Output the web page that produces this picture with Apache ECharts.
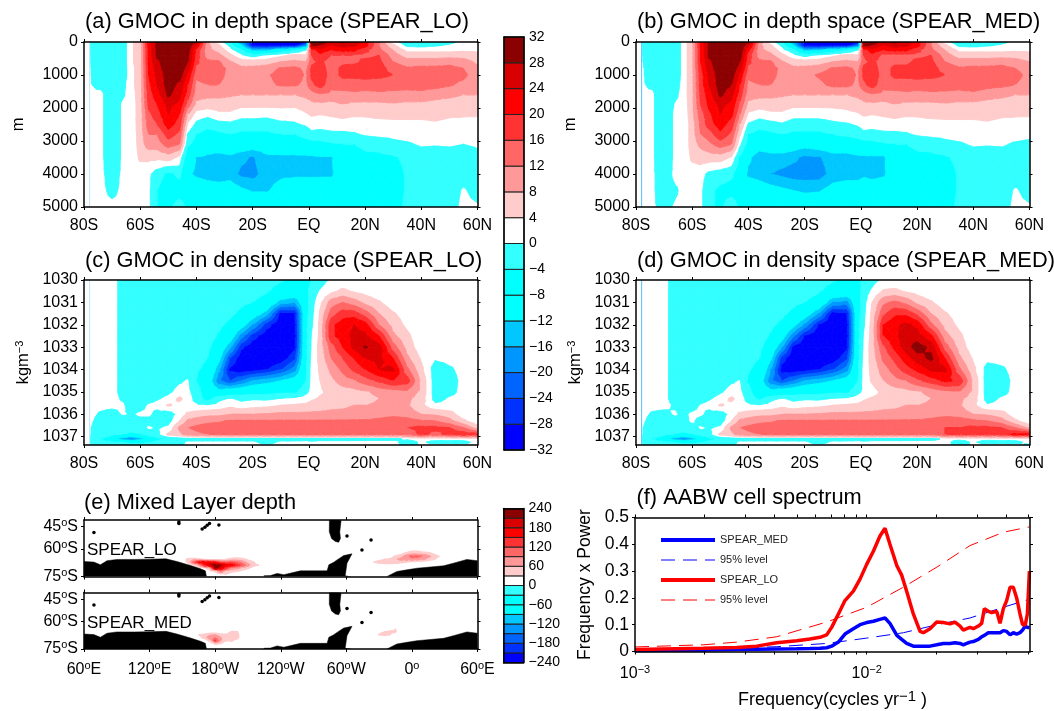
<!DOCTYPE html>
<html>
<head>
<meta charset="utf-8">
<title>GMOC SPEAR</title>
<script src="https://cdn.jsdelivr.net/npm/echarts@6/dist/echarts.min.js"></script>
<style>
  html, body { margin: 0; padding: 0; background: #fff; }
  #main { width: 1054px; height: 711px; }
</style>
</head>
<body>
<div id="main"></div>
<script>
// shared colour levels
const levels = [-32,-28,-24,-20,-16,-12,-8,-4,0,4,8,12,16,20,24,28,32];
const mldLevels = [-240,-210,-180,-150,-120,-90,-60,-30,0,30,60,90,120,150,180,210,240];
const bandColors = ['#0000ff','#0032ff','#0064ff','#0096ff','#00c8ff','#00ffff','#00ffff','#33ffff','#ffffff','#ffcccc','#ff9999','#ff6666','#ff3333','#ff0000','#d80000','#8b0000'];

// section axes
const latNodes = [-80,-78,-74,-70,-66,-63,-60,-57,-54,-50,-46,-43,-40,-36,-32,-28,-24,-20,-15,-10,-5,-1,1,4,8,12,16,20,25,30,35,40,45,50,55,60];
const latTicks = [-80,-60,-40,-20,0,20,40,60];
const latTickNames = ['80S','60S','40S','20S','EQ','20N','40N','60N'];
const depthNodes = [0,100,250,400,600,800,1000,1300,1600,1900,2200,2500,2800,3100,3500,4000,4500,5000];
const depthTicks = [0,1000,2000,3000,4000,5000];
const densityNodes = [1030,1030.5,1031,1031.5,1032,1032.5,1033,1033.5,1034,1034.5,1035,1035.3,1035.6,1036,1036.3,1036.6,1036.9,1037.1,1037.25,1037.37];
const densityTicks = [1030,1031,1032,1033,1034,1035,1036,1037];

// (a) one list per latitude, top to bottom
const depthLo = [
[1,1,1,1,1,1,1,1,1,1,1,1,1,1,1,1,1,1],
[.3,.3,.3,.3,.3,.3,.3,.3,.3,.3,.3,.3,.3,.3,.3,.3,.3,.3],
[-3,-3,-3,-3,-3,-2,-2,-1,1,1,1,1,1,1,1,1,1,1],
[-3,-3,-3,-3,-3,-3,-3,-3,-3,-3,-3,-3,-3,-3,-3,-2,-1,1],
[-2,-2,-2,-2,-2,-2,-2,-1,-.5,1,1,1,1,1,1,1,1,1],
[3.5,3.5,3.5,3.5,3.5,3,3,3,2.5,2,2,2,1.5,1,1,1,1,1],
[6,6,6,6,6,6,6,6,6,6,6,6,6,6,5,1,1,1],
[22,22,21,21,21,20,20,19,18,17,15,14,12,10,5,1,1,1],
[29,29,29,29,27,26,25,24,22,20,18,16,12,10,5,-2,-4,-4],
[32,32,31,31,31,31,30,30,29,25,24,22,18,14,6,-5,-7,-5],
[33,33,33,33,32,31,30,27,25,23,20,18,15,12,3,-3,-6,-2],
[31,31,30,29,28,26,23,20,18,14,8,3,-.5,-3,-9,-11,-7,-5],
[29,24,19,18,17,15,13,11,9.5,7,2,-1,-4,-6,-12,-13,-8,-5],
[9,9,9,10,13,14,14,12,9,6,1,-2.5,-6,-9,-13,-14,-9,-5],
[2,4.5,7,9,12.5,13.5,13.5,12,9,6,3,-1.5,-5,-8,-14,-15,-9,-5],
[-3,-1,2,5,8.5,11,10.5,10,8.5,6,3,-1,-4,-8,-13,-14,-9,-5],
[-18,-12,-3,1,6,9,10,10,8,5,1.5,-2,-5,-8,-15,-17,-11,-6],
[-28,-30,-14,-2,6,9,10.5,10,8,5,1.5,-2,-5,-9,-16.5,-17.5,-12.5,-6],
[-31,-31,-14,1,6,10,11.5,11,8,5,1,-2,-5,-9,-13,-14,-12.5,-7],
[-32,-31,-8,3,8,12.5,13.5,12.5,8,5,2,-1,-4,-8,-13,-13,-10,-7],
[-32,-31,-4,5,9,13,14,12.5,8,5,1.5,-.5,-4,-8,-13,-13,-8,-6],
[-32,-20,.5,4,8,11,11.5,11,9,6,3.5,.5,-2,-7,-13,-13,-8,-6],
[30,29,18,16,15,17,17,15,10,7,4.5,1.5,-1,-6,-13,-13,-8,-6],
[31,28,22,19,17,18,19,18,11.5,7,4,1.5,-1.5,-5.5,-12.5,-13,-8,-6],
[26,24,20,16,14,14,14,13,11,6.5,4.5,2,-1,-4.5,-12.5,-13,-7.5,-6],
[29,26,21,16,15,17,17,14,10.5,8,5,2.5,-1,-4,-7,-7.5,-7,-6],
[26,25,21,16,15,18,17,14,11,7,4.5,2,-.5,-4,-6,-7,-7,-6],
[22,22,17,15,17,18,17.5,14,10.5,7,4.5,2.5,.5,-3,-5,-6,-7,-6],
[12,12,13,16,17,18,17,14,11,7,5,2.5,1,-2.5,-5,-6,-7,-6],
[2,5,8,10,12,14,16,14,10.5,7.5,5,3,1,-1,-4.5,-6,-6,-6],
[-3,-1,3,6,10,12.5,13.5,13.5,10.5,7,5,3,1.5,-.5,-3,-3.5,-3.5,-3],
[-3,-1.5,3,6,10,13,14,14,10.5,7,5,3,1.5,.5,-2,-3,-3,-3],
[-2,-.5,3,6,10,13,14,13.5,9.5,6.5,5,3.5,2,.3,-2,-3,-3,-3],
[-1,.5,3,6,11,13,13.5,12.5,9,6,4.5,3,1.5,.5,-2,-3,-2,-1.5],
[1,2,3.5,6,10,12,13,11,8,5.5,4.5,2.5,1.5,0,-2,-2,.5,1],
[1.5,2,3.5,5,7,9,9.5,9,8,5.5,4.5,2,1,.5,-1,-2,-1.5,.5]
];

// (b)
const depthMed = [
[1,1,1,1,1,1,1,1,1,1,1,1,1,1,1,1,1,1],
[.3,.3,.3,.3,.3,.3,.3,.3,.3,.3,.3,.3,.3,.3,.3,.3,.3,.3],
[-3,-3,-3,-3,-2,-1,-1,-.5,.5,.5,.5,.5,.5,.5,.5,.5,.5,.5],
[-3,-3,-3,-3,-3,-3,-3,-3,-3,-3,-3,-3,-3,-3,-3,-2,-2,-1],
[-3,-3,-3,-3,-3,-3,-3,-2,-1,.5,1,1,1,1,1,1,-.5,.5],
[2,2,2,2,2,2,2,2,2,1.5,1,1,1,1,1,1,1,1],
[7,7,7,7,7,7,7,7,7,7,7,6,6,6,5,1.5,1,1],
[21,21,20,20,20,19,18,18,17,16,14,13,12,9,6,1.5,1,1],
[29,29,29,29,27,26,25,24,22,21,19,18,14,11,6,-1,-3,-3],
[32,32,31,31,31,31,30,30,29,25,24,22,19,14,6,-2,-5,-5],
[33,33,33,33,32,31,30,28,25,23,21,18,15,12,3.5,-3,-6,-1],
[31,31,31,30,28,26,23,20,18,15,12,8,4.5,1,-4.5,-8,-7,-5],
[30,26,21,18,17,15,13,11,9.5,7,3,-.5,-4,-6,-11,-13,-8,-5],
[10,9,9,10,13,14,14,12,9,6,1.5,-2,-6,-9,-15,-14,-9,-5],
[2,4.5,7,9,12.5,13.5,13.5,12,9,6,3,-1.5,-5,-8,-14,-16,-10,-5],
[-3,-1,2,5,8.5,11,10.5,10,8.5,6,3,-.5,-4,-8,-14,-17,-11,-6],
[-18,-12,-2.5,1.5,6,9,10,10,8,5,1.5,-2,-5,-9,-15,-18,-12,-6],
[-28,-30,-14,-1.5,6,9,10.5,10,8,5,1.5,-2,-5,-10,-17,-18,-13,-7],
[-31,-31,-13,1,6,10,12.5,11,8,5,1.5,-2,-5,-9,-16.5,-18,-12.5,-7],
[-32,-31,-8,3,8,12.5,14,13,8,5,2,-1,-4,-8,-14,-14.5,-10,-7],
[-32,-31,-4,5,9,13,14,13,8,5,3,-.5,-3,-8,-14,-14,-9,-6],
[-32,-22,.5,4,8,11,11.5,11,9,6,3.5,.5,-2,-7,-13,-14,-9,-6],
[30,29,18,16,15,17,17,15,10,7,4.5,1.5,-1,-6,-13,-13,-8,-6],
[31,28,22,19,17,18,19,18,11.5,7,4,1.5,-1.5,-5.5,-13,-14,-8,-6],
[26,24,20,15,14,14,14,13,11,6.5,4.5,2,-1,-4.5,-13,-13,-7.5,-6],
[29,26,21,15,15,17,17,14,10.5,8,5,2.5,-1,-4,-7,-7.5,-7,-6],
[26,25,21,15,15,17,17,14,11,7,4.5,2,-.5,-4,-6,-7,-7,-6],
[22,22,17,15,17,18,17.5,14,10.5,7,4.5,2.5,.5,-3,-5,-6,-7,-6],
[12,12,13,16,17,18,17,14,11,7,5,2.5,1,-2.5,-5,-6,-7,-6],
[2,5,8,10,12,14,16,14.5,10.5,7.5,5,3,1,-1,-4.5,-6,-6,-6],
[-3,-1,3,6,10,12.5,14,13.5,10.5,7,5,3,1.5,-.5,-3,-3.5,-3.5,-3],
[-3,-1.5,3,6,10,13,15,15,10.5,7,5,3,1.5,.5,-2,-3,-3,-3],
[-2,-.5,3,6,10,13,14,13.5,9.5,6.5,5,3.5,2,.3,-2,-3,-3,-3],
[-1,.5,3,6,11,13,14,13,9,6,4.5,3,1.5,.5,-2,-3,-2,-1.5],
[1,2,3.5,6,10,12,14,12,8,5.5,4.5,2.5,1.5,-.5,-2,-2,.5,1],
[1.5,2,3.5,5,8,9.5,10,9.5,8,5.5,4.5,2,1,-1,-2,-2,-1.5,.5]
];

// (c)
const densityLo = [
[1,1,1,1,1,1,1,1,1,1,1,1,1,1,1,1,1,1,1,1],
[1,1,1,1,1,1,1,1,1,1,1,1,1,1,.8,.3,.3,.3,.3,.3],
[1,1,1,1,1,1,1,1,1,1,1,1,1,-.5,-1.5,-2,-2,-4,-3,-2],
[1,1,1,1,1,1,1,1,1,1,1,1,1,-1.5,-2,-2,-3,-7,-3,-2],
[-1,-1,-1,-1,-1,-1,-1,-1,-1,-1,-1,-.5,.5,.5,-2,-2,-4,-16,-4,-3],
[-2,-2,-2,-2,-2,-2,-2,-2,-2,-2,-2,-2,-2,-.5,-2,-2,-5,-20,-5,-3],
[-2,-2,-2,-2,-2,-2,-2,-2,-2,-2,-2,-2,-2,1,-1.5,-2,-4,-14,-5,-3],
[-2,-2,-2,-2,-2,-2,-2,-2,-2,-2,-2,-2,.8,1,-1.5,.8,-2,-8,-4,-3],
[-2,-2,-2,-2,-2,-2,-2,-2,-2,-2,-2,-.5,1.5,-1.5,-2,-.5,-1,-5,-3,-2],
[-2,-2,-2,-2,-2,-2,-2,-2,-2,-2,-.8,1.2,4.5,-2,-1.5,1,5,-3,-2,-2],
[-2,-2,-2,-2,-2,-2,-2,-2,-2,-.5,1.5,5,3,1.5,4,9,7,-2,-1.5,-1],
[-2.5,-2.5,-2.5,-2.5,-2.5,-2.5,-2.5,-2.5,-2.5,.5,1,2,.8,5,9,12,10,-1.5,1,1],
[-2,-2,-2,-2,-2,-2,-2,-3,-3.5,-4,-2,-1.5,.8,6,10,13,11,-1.5,1,1],
[-2,-2,-2,-2,-2,-2,-3,-4,-5,-8,-7,-6,.5,7,11,14,12,-1.5,1,1],
[-2,-2,-2,-2.5,-3,-4.5,-7,-10,-15,-19,-10,-1,1.5,7,11.5,14,12.5,-1.5,1,1],
[-2,-2,-2.5,-3,-5,-8,-15,-24,-29,-24,-8,.5,3,8,12.5,15,13,-1.5,1,1],
[-2,-2,-3,-5,-9,-18,-27,-31,-31,-20,-7,-1,1.5,8,12.5,15,13,-1.5,1,1],
[-2,-2.5,-4,-8,-16,-26,-31,-32,-30,-16,-6,-.5,2.5,8,12.5,15,13,-1.5,1,1],
[-2.5,-3.5,-6,-14,-26,-31,-32,-33,-28,-14,-6,-.8,3,8.5,12.5,15,13,-1.5,-2,1],
[-3.5,-6,-14,-29,-32,-33,-33,-31,-24,-12,-5,.3,4,9,12.5,15,13,-1.5,1,1],
[-5,-6.5,-16,-28,-29,-30,-29,-25,-18,-9,-5,1,4.5,9,12.5,15,13,-1.5,1,1],
[-5,-5.5,-6,-6,-5,-5,-5,-5,-4.5,-4,-1,2,5,9,12.5,15,13,-1,1,1],
[-4,-2,-1.5,-1,-.5,.5,.8,1.5,2,2,1.5,3.5,5.5,9,12.5,15,13,-1,.5,1],
[-2,.5,3,4.5,5,5,5.5,5,4.5,4,3.5,4.5,6,9,12.5,15,13,-1,1,1],
[1,3,10,14,19,19,14,12,9,7,5,5,6.5,9.5,12.5,15,13,-1,1,1],
[1,5,12,18,22,22,20,16,13,10,6,5.5,7,9.5,12.5,15,13,-1,1,1],
[1,3.5,10,18,24,25,25,20,17,11.5,6.5,6,8,10,12.5,15,13,-1,1,1],
[.5,2.5,7,14,22,25,28.5,24,20,14,7.5,7,8,10,12.5,15,13,-.8,1,1],
[.5,1,4.5,8,12,20,26,25,24,17,9,8,8.5,10.5,13,15,13,-.8,1,1],
[.5,.8,1.5,4.5,6.5,9,14,20,25,20,10,8.5,9,11,14,15.5,13,-.8,1,1],
[.5,.5,1,2,3,5,6.5,9,13,18,11,9,8.5,10,14,16,13,.5,-1.5,-1],
[.5,.5,.8,1,1,1,1.5,3.5,5,7,7,6,5,8,12.5,17,17,1,.5,.5],
[1,1,1,1,1,1,1,.5,-2,-2,-2,-1.5,1,7.5,12,17,15,1,-1,1],
[1,1,1,1,1,1,1,1,-.5,-1.5,-1,.5,1,6,9.5,16,17,1,-1,1],
[1,1,1,1,1,1,1,1,1,1,1,1,1,1.5,5,12,19,1,-1,1],
[1,1,1,1,1,1,1,1,1,1,1,1,1,1,1,6,18,2,1,1]
];

// (d)
const densityMed = [
[1,1,1,1,1,1,1,1,1,1,1,1,1,1,1,1,1,1,1,1],
[1,1,1,1,1,1,1,1,1,1,1,1,1,1,.8,.3,.3,.3,.3,.3],
[1,1,1,1,1,1,1,1,1,1,1,1,1,-.5,-1.5,-2,-2,-4,-3,-2],
[1,1,1,1,1,1,1,1,1,1,1,1,1,-1,-2,-2,-3,-7,-3,-2],
[-1.5,-1.5,-1.5,-1.5,-1.5,-1.5,-1.5,-1.5,-1.5,-1.5,-1.5,-1.5,-.5,.5,-1.5,-2,-4,-16,-4,-3],
[-2,-2,-2,-2,-2,-2,-2,-2,-2,-2,-2,-2,-2,-1,-1.5,-2,-5,-20,-5,-3],
[-2,-2,-2,-2,-2,-2,-2,-2,-2,-2,-2,-2,-2,1,1,-2,-4,-15,-5,-3],
[-2,-2,-2,-2,-2,-2,-2,-2,-2,-2,-2,-2,.5,1,-2,.8,-2,-9,-4,-3],
[-2,-2,-2,-2,-2,-2,-2,-2,-2,-2,-2,-.5,1.5,-1.5,-2.5,-.5,-1,-5,-3,-2],
[-2,-2,-2,-2,-2,-2,-2,-2,-2,-2,-.5,1.5,4.5,-2,-2,1,5,-3,-2,-2],
[-2,-2,-2,-2,-2,-2,-2,-2,-2,-.5,1.5,5,3,1.5,4,9,7,-2,-1.5,-1],
[-2.5,-2.5,-2.5,-2.5,-2.5,-2.5,-2.5,-2.5,-2.5,.3,1,2,.8,5,9,12,10,-1.5,1,1],
[-2,-2,-2,-2,-2,-2,-2,-3,-3.5,-4.5,-2.5,-1.5,.8,6,10,13,11,-1.5,1,1],
[-2,-2,-2,-2,-2,-2,-3,-4,-5.5,-9,-8,-5,.5,7,11,14,12,-1.5,1,1],
[-2,-2,-2,-2.5,-3,-4.5,-7,-11,-16,-19,-10,-1,1.5,7,11.5,14,12.5,-1.5,1,1],
[-2,-2,-2.5,-3,-5,-9,-16,-26,-30,-24,-8,.5,3,8,12.5,15,13,-1.5,1,1],
[-2,-2,-3,-5,-10,-19,-29,-32,-31,-20,-7,-1,1.5,8,12.5,15,13,-1.5,1,1],
[.5,-2.5,-4,-8,-17,-28,-32,-33,-30,-16,-6,-.5,2.5,8,12.5,15,13,-1.5,1,1],
[-2.5,-3.5,-6,-16,-28,-32,-33,-33,-28,-14,-6,-.8,3,8.5,12.5,15,13,-1.5,-2,1],
[-3.5,-6,-16,-30,-33,-33,-33,-31,-24,-12,-5,.3,4,9,12.5,15,13,-1.5,1,1],
[-5,-6.5,-18,-28,-30,-30,-29,-25,-18,-9,-5,.8,4.5,9,12.5,15,13,-1.5,1,1],
[-5,-5.5,-6,-6,-5,-5,-5,-5,-4.5,-4,-1,2,5,9,12.5,15,13,-1,1,1],
[-3,-2,-1.5,-1,-.5,.5,.8,1.5,2,2,1,3.5,5.5,9,12.5,15,13,-1,.5,1],
[-1.5,.8,4,5,5.5,5.5,6,5.5,5,4.5,2.5,4.5,6,9,12.5,15,13,-1,1,1],
[1,4.5,11,15,20,20,15,13,10,8,5,5,6.5,9.5,12.5,15,13,-1,1,1],
[1,5,13,19,23,23,21,17,14,10.5,6,5.5,7,9.5,12.5,15,13,-1,1,1],
[1,3.5,11,19,25,26,26,22,18,12,6.5,6,8,10,12.5,15,13,-1,1,1],
[.5,2.5,7,15,23,26,30,26,21,15,7.5,7,8,10,12.5,15,13,-.8,1,1],
[.5,1,4.5,8,13,21,27,29,25,18,9,8,8.5,10.5,13,15,13,-.8,1,1],
[.5,.8,1.5,4.5,6.5,9.5,14,20,25,21,11,8.5,9,11,14,16,16,.5,1,1],
[.5,.5,1,2,3,5,6.5,9,13,19,12,9,8.5,10,14.5,16,17,.8,-1.5,-1],
[.5,.5,.8,1,1,1,1.5,3.5,5,7,7,6,5,8,13,17,17,1,.5,.5],
[1,1,1,1,1,1,1,1,-1.5,-2,-2,-1.5,.5,7.5,12,17,17,1,-1.5,1],
[1,1,1,1,1,1,1,1,-.5,-1.5,-1,.5,1,6,10,16,18,1,-1,1],
[1,1,1,1,1,1,1,1,1,1,1,1,1,1.5,5,12,21,1,-1,1],
[1,1,1,1,1,1,1,1,1,1,1,1,1,1,1,7,21,2,1,-.5]
];

// (e) mixed layer, patches of non zero depth
const mldRossLons = [150,155,160,165,170,175,180,185,190,195,200,205,210,215,220,225];
const mldRossLats = [-63,-65,-67,-69,-71,-73,-75,-77];
const mldRossLo = [
[0,0,10,20,0,0,0,0],[0,0,40,35,10,0,0,0],[0,0,50,100,25,0,0,0],[0,0,40,160,70,5,0,0],
[0,0,25,170,150,15,0,0],[0,0,15,165,200,60,10,0],[0,0,20,150,225,230,40,0],[0,0,25,110,215,190,100,25],
[0,0,30,100,180,130,60,30],[0,10,45,115,170,90,40,10],[0,15,45,100,140,70,35,5],[0,10,40,80,110,55,20,0],
[0,0,25,50,75,35,5,0],[0,0,10,35,40,15,0,0],[0,0,0,10,30,0,0,0],[0,0,0,0,0,0,0,0]
];
const mldWedLons = [325,330,335,340,345,350,355,360,365,370,375,380,385,390];
const mldWedLats = [-59,-61,-63,-65,-67,-69,-71,-73];
const mldWedLo = [
[0,0,0,0,15,30,5,0],[0,0,0,0,25,40,10,0],[0,0,0,5,30,40,20,0],[0,0,0,15,35,45,15,0],
[0,0,5,35,55,50,5,0],[0,0,20,50,70,40,0,0],[0,10,40,80,75,30,0,0],[0,25,50,100,80,20,0,0],
[0,25,50,100,75,15,0,0],[0,15,45,90,70,10,0,0],[0,10,40,70,50,5,0,0],[0,0,25,50,35,0,0,0],
[0,0,5,30,15,0,0,0],[0,0,0,0,0,0,0,0]
];
const mldRossMedLons = [160,165,170,175,180,185,190,195,200,205];
const mldRossMedLats = [-65,-67,-69,-71,-73,-75,-77];
const mldRossMed = [
[0,0,10,0,0,0,0],[0,0,30,20,0,0,0],[0,0,40,40,5,0,0],[0,10,55,85,40,0,0],[0,10,60,90,130,40,0],
[0,5,40,65,65,30,0],[0,15,35,35,30,0,0],[0,35,45,50,35,0,0],[0,35,45,45,15,0,0],[0,0,0,0,0,0,0]
];
const mldWedMedLons = [325,330,335,340,345,350];
const mldWedMedLats = [-65,-67,-69,-71];
const mldWedMed = [[0,0,0,0],[0,25,32,0],[0,30,40,0],[10,40,30,0],[30,35,5,0],[0,0,0,0]];

// coast outlines, lon (60..420) and lat
const antarcticaLons = [60,69,75,81,90,106,121,135,145,157.5,166.6,171,172,172.1,224.4,224.5,230.6,236.7,242.8,258,267,282.4,284,288.5,291.5,297.6,305.2,300.6,299,299.1,337.1,337.2,346.3,355.5,364.6,389,398,410.3,420];
const antarcticaLats = [-68.5,-68.9,-70.7,-68,-67.1,-67.1,-66.9,-66.7,-68.5,-71.2,-73.4,-74.8,-78.6,null,null,-78.1,-78,-76.5,-77.4,-74.8,-74.8,-74.8,-70.7,-69,-67.4,-64.5,-63.3,-69.6,-77.9,null,null,-78.6,-75.2,-74.1,-73,-71.4,-69.6,-67.1,-68];
const southAmericaLons = [284.5,284.4,286.5,290,293,294.6,294,295.2];
const southAmericaLats = [-40.8,-48.5,-53,-55,-55.5,-53,-48.5,-40.8];
const islandLons = [146.8,146.8,69.1,168.1,170.6,172.7,174.8,183.4,300.6,322.6,314.3];
const islandLats = [-42.8,-41.9,-49,-46.6,-45.4,-44.1,-42.8,-43.9,-51.3,-54,-60.7];
const mapLonTicks = [60,120,180,240,300,360,420];
const mapLonNames = ['60|E','120|E','180|W','120|W','60|W','0|','60|E'];
const mapLatTicks = [-45,-60,-78.6];
const mapLatNames = ['45','60','75'];

// (f) spectrum
const freqs = [.001,.00197,.00275,.00335,.00409,.00499,.00569,.00629,.00672,.00706,.00755,.00806,.00876,.00936,.01,.0107,.0114,.012,.0126,.0135,.01416,.01488,.0159,.017,.01756,.01877,.02006,.02143,.0229,.02405,.0253,.02614,.02703,.02793,.02886,.03033,.03136,.03221,.0335,.03464,.0364,.03764,.0389,.0402,.0416,.04295,.0444,.0459,.0471,.0484,.0494,.0504];
const powerLo = [.007,.012,.015,.02,.033,.04,.047,.053,.062,.09,.14,.19,.225,.27,.325,.375,.43,.46,.4,.32,.285,.225,.14,.075,.07,.085,.11,.108,.103,.11,.095,.08,.085,.09,.085,.095,.105,.16,.15,.145,.15,.105,.16,.19,.24,.24,.2,.14,.1,.1,.14,.3];
const powerMed = [.004,.006,.007,.008,.009,.01,.011,.012,.014,.02,.035,.065,.085,.1,.108,.113,.12,.125,.105,.06,.045,.03,.02,.02,.02,.02,.025,.03,.03,.033,.03,.025,.03,.035,.037,.045,.055,.06,.07,.07,.07,.07,.078,.075,.062,.07,.065,.07,.08,.095,.09,.09];
const levelFreqs = [.001,.00197,.00275,.00409,.00672,.01,.0144,.0201,.0279,.0389,.0504];
const levelLo = [.017,.025,.035,.055,.11,.165,.24,.315,.395,.445,.465];
const levelMed = [.003,.008,.012,.018,.03,.05,.07,.1,.125,.165,.195];
const freqTicks = [.001,.002,.003,.004,.005,.006,.007,.008,.009,.01,.02,.03,.04,.05];
const freqLabelTicks = [.001,.01];

const FONT = 'Liberation Sans';
const TITLE_SIZE = 21.8;
const grids = [], xAxes = [], yAxes = [], series = [], titles = [];

function tickBase(g, customTicks) {
  return {
    gridIndex: g, z: 5,
    axisLine: { onZero: false, lineStyle: { color: '#000', width: 1.5 } },
    axisTick: { show: true, length: 3, lineStyle: { color: '#000', width: 1 }, customValues: customTicks },
    splitLine: { show: false }, minorTick: { show: false }
  };
}

// one framed plot: grid plus four axes, the extra pair only carries ticks
function addPanel(left, top, width, height, xCfg, yCfg) {
  const g = grids.length;
  grids.push({ left, top, width, height, containLabel: false, outerBoundsMode: 'none' });
  const xi = xAxes.length, yi = yAxes.length;
  const xScale = { type: xCfg.type || 'value', min: xCfg.min, max: xCfg.max, logBase: xCfg.logBase };
  const yScale = { type: 'value', min: yCfg.min, max: yCfg.max, inverse: yCfg.inverse };
  xAxes.push(Object.assign(tickBase(g, xCfg.ticks), xScale, { position: 'bottom', axisLabel: xCfg.label, name: xCfg.name, nameLocation: 'middle', nameGap: xCfg.nameGap, nameTextStyle: xCfg.nameStyle }));
  xAxes.push(Object.assign(tickBase(g, xCfg.ticks), xScale, { position: 'top', axisLabel: { show: false } }));
  const side = yCfg.side || 'left';
  yAxes.push(Object.assign(tickBase(g, yCfg.ticks), yScale, { position: side, axisLabel: yCfg.label, name: yCfg.name, nameLocation: 'middle', nameGap: yCfg.nameGap, nameRotate: 90, nameTextStyle: yCfg.nameStyle }));
  yAxes.push(Object.assign(tickBase(g, yCfg.ticks), yScale, { position: side === 'left' ? 'right' : 'left', axisLabel: { show: false } }));
  return { xAxisIndex: xi, yAxisIndex: yi };
}

function clipBand(poly, lim, keepAbove) {
  const inside = p => keepAbove ? p[2] >= lim : p[2] < lim;
  const out = [];
  for (let k = 0; k < poly.length; k++) {
    const a = poly[k], b = poly[(k + 1) % poly.length];
    const ia = inside(a), ib = inside(b);
    if (ia) out.push(a);
    if (ia !== ib) {
      const t = (lim - a[2]) / (b[2] - a[2]);
      out.push([a[0] + t * (b[0] - a[0]), a[1] + t * (b[1] - a[1]), lim]);
    }
  }
  return out;
}

// filled contour bands for one cell of a value table
function contourItem(lv) {
  return function (params, api) {
    const x0 = api.value(0), y0 = api.value(1), x1 = api.value(2), y1 = api.value(3);
    const v = [api.value(4), api.value(5), api.value(6), api.value(7)];
    const c = [x0 / 2 + x1 / 2, y0 / 2 + y1 / 2, (v[0] + v[1] + v[2] + v[3]) / 4];
    const corners = [[x0, y0, v[0]], [x1, y0, v[1]], [x1, y1, v[2]], [x0, y1, v[3]]];
    const children = [];
    for (let t = 0; t < 4; t++) {
      const tri = [corners[t], corners[(t + 1) % 4], c];
      for (let b = 0; b < bandColors.length; b++) {
        if (bandColors[b] === '#ffffff') continue;
        let poly = tri;
        if (b > 0) poly = clipBand(poly, lv[b], true);
        if (poly.length && b < bandColors.length - 1) poly = clipBand(poly, lv[b + 1], false);
        if (poly.length < 3) continue;
        children.push({
          type: 'polygon',
          shape: { points: poly.map(p => api.coord([p[0], p[1]])) },
          style: { fill: bandColors[b], stroke: bandColors[b], lineWidth: 0.9 }
        });
      }
    }
    return { type: 'group', children };
  };
}

function cellsOf(xs, ys, cols) {
  const cells = [];
  for (let i = 0; i < xs.length - 1; i++) {
    for (let j = 0; j < ys.length - 1; j++) {
      cells.push([xs[i], ys[j], xs[i + 1], ys[j + 1], cols[i][j], cols[i + 1][j], cols[i + 1][j + 1], cols[i][j + 1]]);
    }
  }
  return cells;
}

function addContour(axes, xs, ys, cols, lv) {
  series.push(Object.assign({ type: 'custom', renderItem: contourItem(lv), data: cellsOf(xs, ys, cols), clip: true, silent: true, z: 2, encode: { x: [0, 2], y: [1, 3] } }, axes));
}

const tickLabel = { color: '#000', fontFamily: FONT, fontSize: 16 };
const latLabel = Object.assign({}, tickLabel, { margin: 11, customValues: latTicks, formatter: v => latTickNames[latTicks.indexOf(v)] });
const supStyle = { fontFamily: FONT, color: '#000', fontSize: 11, padding: [0, 0, 8, 0] };
const nameRich = { fontFamily: FONT, color: '#000', fontSize: 16.5 };

function sectionPanel(left, width, top, kind, cols, titleText, edgeColor) {
  const isDepth = kind === 'depth';
  const axes = addPanel(left, top, width, 165,
    { min: -80, max: 60, ticks: latTicks, label: latLabel },
    isDepth ? {
      min: 0, max: 5000, inverse: true, ticks: depthTicks,
      label: Object.assign({}, tickLabel, { margin: 6, customValues: depthTicks, formatter: v => String(v) }),
      name: 'm', nameGap: 57, nameStyle: nameRich
    } : {
      min: 1030, max: 1037.37, inverse: true, ticks: densityTicks,
      label: Object.assign({}, tickLabel, { margin: 6, customValues: densityTicks, formatter: v => String(v) }),
      name: '{a|kgm}{s|−3}', nameGap: 51,
      nameStyle: { color: '#000', rich: { a: nameRich, s: supStyle } }
    });
  addContour(axes, latNodes, isDepth ? depthNodes : densityNodes, cols, levels);
  const yEnds = isDepth ? [0, 5000] : [1030, 1037.37];
  series.push(Object.assign({ type: 'line', symbol: 'none', silent: true, z: 3, lineStyle: { color: edgeColor, width: 1 }, data: [[-78, yEnds[0]], [-78, yEnds[1]]] }, axes));
  titles.push({ text: titleText, left: left + 1, top: top - (isDepth ? 31 : 30), padding: 0, textStyle: { fontFamily: FONT, fontWeight: 'normal', fontSize: TITLE_SIZE, color: '#000' } });
}

sectionPanel(84, 393.5, 42, 'depth', depthLo, '(a) GMOC in depth space (SPEAR_LO)', '#bde3ff');
sectionPanel(636, 393.5, 42, 'depth', depthMed, '(b) GMOC in depth space (SPEAR_MED)', '#55c0ff');
sectionPanel(84, 393.5, 280, 'density', densityLo, '(c) GMOC in density space (SPEAR_LO)', '#bde3ff');
sectionPanel(636, 393.5, 280, 'density', densityMed, '(d) GMOC in density space (SPEAR_MED)', '#55c0ff');

// colour bars
function addBar(left, top, height, lv, labelled) {
  const axes = addPanel(left, top, 20, height, { min: 0, max: 1, ticks: [], label: { show: false } }, {
    min: lv[0], max: lv[lv.length - 1], ticks: [], side: 'right',
    label: Object.assign({}, tickLabel, { fontSize: 14, margin: 5, customValues: labelled, formatter: v => String(v).replace('-', '−') })
  });
  const bands = bandColors.map((c, i) => [lv[i], lv[i + 1], i]);
  series.push(Object.assign({
    type: 'custom', silent: true, z: 2, data: bands, encode: { y: [0, 1] },
    renderItem(params, api) {
      const a = api.coord([0, api.value(1)]), b = api.coord([1, api.value(0)]);
      return { type: 'rect', shape: { x: a[0], y: a[1], width: b[0] - a[0], height: b[1] - a[1] }, style: { fill: bandColors[api.value(2)], stroke: '#222', lineWidth: 1 } };
    }
  }, axes));
}
addBar(504, 37, 413, levels, levels);
addBar(503.5, 508.5, 154, mldLevels, [-240,-180,-120,-60,0,60,120,180,240]);

// (e) maps
function mapPanel(top, height, showLon, patches) {
  const richStyle = { a: { fontFamily: FONT, color: '#000', fontSize: 16 }, s: supStyle };
  const axes = addPanel(84, top, 393.5, height, {
    min: 60, max: 420, ticks: mapLonTicks,
    label: showLon ? { show: true, margin: 11, customValues: mapLonTicks, rich: richStyle, formatter(v) {
      const p = mapLonNames[mapLonTicks.indexOf(v)].split('|');
      return '{a|' + p[0] + '}{s|o}' + (p[1] ? '{a|' + p[1] + '}' : '');
    } } : { show: false }
  }, {
    min: -78.6, max: -40.5, ticks: mapLatTicks,
    label: { show: true, margin: 6, customValues: mapLatTicks, rich: richStyle, formatter(v) {
      return '{a|' + mapLatNames[mapLatTicks.indexOf(v)] + '}{s|o}{a|S}';
    } }
  });
  patches.forEach(p => addContour(axes, p[0], p[1], p[2], mldLevels));
  series.push(Object.assign({
    type: 'line', symbol: 'none', silent: true, z: 3, connectNulls: false, lineStyle: { color: '#000', width: 0.5 },
    areaStyle: { color: '#000', opacity: 1, origin: 'start' },
    data: antarcticaLons.map((x, i) => [x, antarcticaLats[i] === null ? NaN : antarcticaLats[i]])
  }, axes));
  series.push(Object.assign({
    type: 'line', symbol: 'none', silent: true, z: 3, lineStyle: { color: '#000', width: 0.5 },
    areaStyle: { color: '#000', opacity: 1, origin: 'end' },
    data: southAmericaLons.map((x, i) => [x, southAmericaLats[i]])
  }, axes));
  series.push(Object.assign({
    type: 'scatter', symbol: 'circle', symbolSize: 3.5, silent: true, z: 3, itemStyle: { color: '#000', opacity: 1 },
    data: islandLons.map((x, i) => [x, islandLats[i]])
  }, axes));
}
mapPanel(520, 56.5, false, [[mldRossLons, mldRossLats, mldRossLo], [mldWedLons, mldWedLats, mldWedLo]]);
mapPanel(592.5, 56.5, true, [[mldRossMedLons, mldRossMedLats, mldRossMed], [mldWedMedLons, mldWedMedLats, mldWedMed]]);
titles.push({ text: '(e) Mixed Layer depth', left: 84, top: 491.5, padding: 0, textStyle: { fontFamily: FONT, fontWeight: 'normal', fontSize: TITLE_SIZE, color: '#000' } });

// (f) spectrum
const specAxes = addPanel(635, 517.5, 395, 134, {
  type: 'log', logBase: 10, min: 0.001, max: 0.0507, ticks: freqTicks,
  label: { show: true, margin: 13, customValues: freqLabelTicks, rich: { a: { fontFamily: FONT, color: '#000', fontSize: 16 }, s: supStyle }, formatter: v => '{a|10}{s|' + (v < 0.005 ? '−3' : '−2') + '}' },
  name: '{a|Frequency(cycles yr}{s|−1}{a| )}', nameGap: 38,
  nameStyle: { rich: { a: { fontFamily: FONT, color: '#000', fontSize: 18 }, s: { fontFamily: FONT, color: '#000', fontSize: 15, padding: [0, 0, 7, 0] } } }
}, {
  min: 0, max: 0.5, ticks: [0, .1, .2, .3, .4, .5],
  label: Object.assign({}, tickLabel, { fontSize: 17.5, margin: 6, customValues: [0, .1, .2, .3, .4, .5] }),
  name: 'Frequency x Power', nameGap: 41,
  nameStyle: { color: '#000', fontFamily: FONT, fontSize: 17.5 }
});
const zip = (xs, ys) => xs.map((x, i) => [x, ys[i]]);
const specLine = (name, xs, ys, color, width, dash) => Object.assign({
  type: 'line', name, symbol: 'none', z: 3, silent: true, data: zip(xs, ys),
  lineStyle: { color, width, type: dash ? [14, 8] : 'solid' }, itemStyle: { color }
}, specAxes);
series.push(specLine('95% level MED', levelFreqs, levelMed, '#0000ff', 1, true));
series.push(specLine('95% level LO', levelFreqs, levelLo, '#ff0000', 1, true));
series.push(specLine('SPEAR_MED', freqs, powerMed, '#0000ff', 3.5, false));
series.push(specLine('SPEAR_LO', freqs, powerLo, '#ff0000', 3.5, false));
titles.push({ text: '(f) AABW cell spectrum', left: 636.5, top: 487, padding: 0, textStyle: { fontFamily: FONT, fontWeight: 'normal', fontSize: TITLE_SIZE, color: '#000' } });

const chart = echarts.init(document.getElementById('main'), null, { renderer: 'canvas' });
chart.setOption({
  animation: false,
  backgroundColor: '#fff',
  textStyle: { fontFamily: FONT },
  title: titles,
  grid: grids,
  xAxis: xAxes,
  yAxis: yAxes,
  series,
  legend: {
    left: 659, top: 533, orient: 'vertical', itemWidth: 54, itemHeight: 14, itemGap: 6, padding: 0,
    data: [
      { name: 'SPEAR_MED', lineStyle: { width: 4 } },
      { name: '95% level MED', lineStyle: { width: 1 } },
      { name: 'SPEAR_LO', lineStyle: { width: 4 } },
      { name: '95% level LO', lineStyle: { width: 1 } }
    ],
    itemStyle: { opacity: 0 },
    formatter: n => n.indexOf('95%') === 0 ? '95% level' : n,
    textStyle: { fontFamily: FONT, fontSize: 11, color: '#222', lineHeight: 14 }
  },
  graphic: [
    { type: 'text', left: 87, top: 542, z: 20, style: { text: 'SPEAR_LO', fontFamily: FONT, fontSize: 17, fill: '#000' } },
    { type: 'text', left: 87, top: 615, z: 20, style: { text: 'SPEAR_MED', fontFamily: FONT, fontSize: 17, fill: '#000' } }
  ]
});
</script>
</body>
</html>
